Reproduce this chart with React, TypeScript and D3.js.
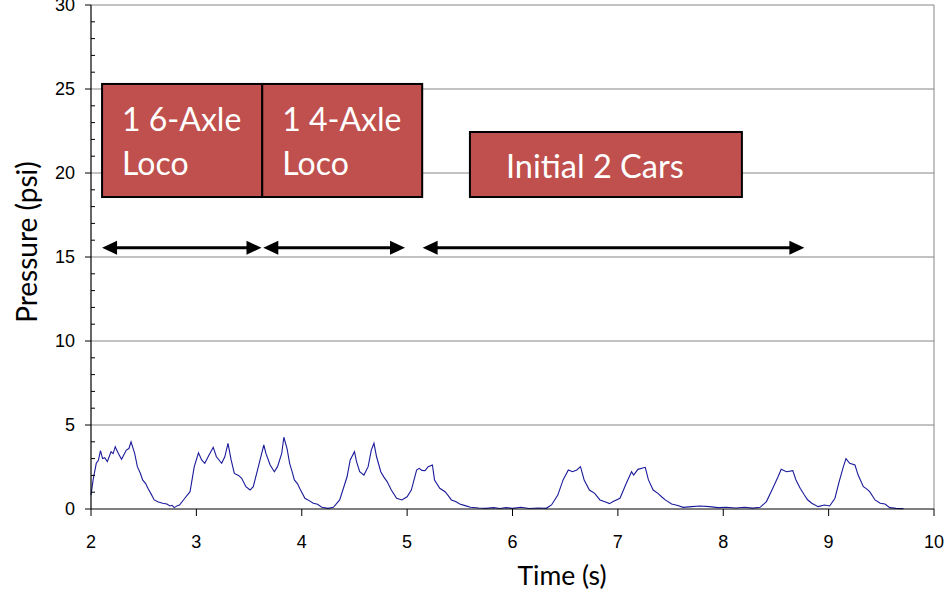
import React from "react";
import * as d3 from "d3";

const timeS: number[] = [
  2.0, 2.02, 2.05, 2.07, 2.09, 2.11, 2.13, 2.155, 2.19, 2.21, 2.23, 2.26, 2.29, 2.31, 2.335, 2.36, 2.38, 2.415, 2.44, 2.47, 2.49, 2.52, 2.54, 2.57, 2.6, 2.64, 2.68, 2.72, 2.75, 2.77, 2.79, 2.82, 2.84, 2.89, 2.94, 2.98,
  3.02, 3.05, 3.08, 3.12, 3.16, 3.19, 3.24, 3.27, 3.3, 3.33, 3.36, 3.4, 3.43, 3.47, 3.51, 3.54, 3.58, 3.62, 3.64, 3.66, 3.7, 3.74, 3.77, 3.81, 3.83, 3.86, 3.885, 3.91, 3.93, 3.96, 3.98,
  4.03, 4.07, 4.11, 4.15, 4.19, 4.25, 4.3, 4.36, 4.43, 4.46, 4.5, 4.52, 4.55, 4.59, 4.63, 4.66, 4.685, 4.71, 4.75, 4.78, 4.81, 4.85, 4.9, 4.95, 5.0,
  5.04, 5.09, 5.115, 5.14, 5.17, 5.2, 5.24, 5.26, 5.31, 5.36, 5.39, 5.42, 5.46, 5.5, 5.55, 5.6, 5.68, 5.75, 5.82, 5.88, 5.94, 6.0, 6.08, 6.16, 6.24, 6.32,
  6.37, 6.43, 6.48, 6.53, 6.57, 6.61, 6.645, 6.68, 6.73, 6.78, 6.83, 6.89, 6.92, 6.955, 7.02, 7.08, 7.13, 7.15, 7.19, 7.26, 7.29, 7.335, 7.38, 7.42, 7.45, 7.51,
  7.56, 7.62, 7.7, 7.78, 7.87, 7.95, 8.03, 8.12, 8.2, 8.28, 8.35, 8.41, 8.47, 8.52, 8.55, 8.6, 8.66, 8.69, 8.73, 8.77, 8.8, 8.84, 8.9, 8.96, 9.01,
  9.06, 9.1, 9.14, 9.165, 9.2, 9.25, 9.28, 9.33, 9.36, 9.39, 9.44, 9.49, 9.535, 9.58, 9.64, 9.71,
];
const pressurePsi: number[] = [
  0.83, 1.73, 2.72, 2.9, 3.47, 3.0, 3.05, 2.82, 3.41, 3.3, 3.71, 3.3, 2.96, 3.2, 3.51, 3.6, 4.0, 3.3, 2.52, 2.1, 1.73, 1.5, 1.23, 0.9, 0.54, 0.42, 0.34, 0.3, 0.18, 0.22, 0.08, 0.2, 0.24, 0.64, 1.03, 2.52,
  3.35, 2.92, 2.72, 3.21, 3.67, 3.11, 2.72, 3.11, 3.91, 2.92, 2.12, 2.0, 1.83, 1.33, 1.13, 1.33, 2.32, 3.31, 3.81, 3.31, 2.62, 2.22, 2.52, 3.31, 4.27, 3.61, 2.72, 2.2, 1.73, 1.5, 1.23,
  0.64, 0.5, 0.34, 0.28, 0.1, 0.04, 0.1, 0.54, 1.92, 2.92, 3.41, 2.82, 2.22, 2.02, 2.52, 3.51, 3.91, 3.11, 2.22, 1.9, 1.63, 1.13, 0.64, 0.54, 0.73,
  1.13, 2.32, 2.42, 2.3, 2.28, 2.52, 2.62, 1.73, 1.23, 1.03, 0.8, 0.54, 0.45, 0.3, 0.2, 0.1, 0.06, 0.04, 0.08, 0.03, 0.08, 0.04, 0.1, 0.03, 0.06, 0.04,
  0.24, 0.83, 1.73, 2.32, 2.22, 2.32, 2.52, 1.73, 1.13, 0.93, 0.54, 0.4, 0.32, 0.44, 0.64, 1.53, 2.22, 2.02, 2.36, 2.48, 1.73, 1.13, 0.93, 0.7, 0.54, 0.3,
  0.22, 0.1, 0.14, 0.18, 0.14, 0.08, 0.1, 0.06, 0.1, 0.05, 0.1, 0.44, 1.23, 1.92, 2.36, 2.22, 2.28, 1.73, 1.23, 0.83, 0.55, 0.34, 0.14, 0.24, 0.18,
  0.64, 1.63, 2.52, 3.0, 2.72, 2.62, 2.02, 1.33, 1.2, 1.03, 0.54, 0.34, 0.3, 0.08, 0.04, 0.02,
];

const xTicks: number[] = [2, 3, 4, 5, 6, 7, 8, 9, 10];
const yTicks: number[] = [0, 5, 10, 15, 20, 25, 30];
const yMinorTicks: number[] = d3.range(0, 31).filter((v) => v % 5 !== 0);

// annotation boxes in data units
const boxLabels: string[][] = [["1 6-Axle", "Loco"], ["1 4-Axle", "Loco"], ["Initial 2 Cars"]];
const boxT0: number[] = [2.105, 3.625, 5.596];
const boxT1: number[] = [3.625, 5.143, 8.177];
const boxPTop: number[] = [25.3, 25.3, 22.44];
const boxPBottom: number[] = [18.57, 18.57, 18.57];

// arrows in data units
const arrowT0: number[] = [2.105, 3.635, 5.147];
const arrowT1: number[] = [3.618, 4.98, 8.77];
const arrowP = 15.55;

export default function App() {
  const W = 951;
  const H = 592;
  const x = d3.scaleLinear().domain([2, 10]).range([91, 934]);
  const y = d3.scaleLinear().domain([0, 30]).range([509, 5]);
  const line = d3
    .line<number>()
    .x((_, i) => x(timeS[i]))
    .y((d) => y(d));
  const pathD = line(pressurePsi) || "";
  const tickFont = "'Liberation Sans', Arial, sans-serif";
  const titleFont = "Lato, 'Open Sans', sans-serif";

  return (
    <svg width={W} height={H} style={{ position: "absolute", left: 0, top: 0, background: "#fff" }}>
      {yTicks.filter((v) => v > 0).map((v) => (
        <line key={"g" + v} x1={x(2)} x2={x(10)} y1={y(v)} y2={y(v)} stroke="#858585" strokeWidth={1} />
      ))}
      <line x1={x(10)} x2={x(10)} y1={y(30)} y2={y(0)} stroke="#858585" strokeWidth={1} />

      <path d={pathD} fill="none" stroke="#1a1a9a" strokeWidth={1.1} />

      <line x1={x(2)} x2={x(2)} y1={y(30)} y2={y(0)} stroke="#000" strokeWidth={1.2} />
      <line x1={x(2)} x2={x(10)} y1={y(0)} y2={y(0)} stroke="#000" strokeWidth={1.2} />
      {yTicks.map((v) => (
        <g key={"yt" + v}>
          <line x1={x(2) - 6} x2={x(2)} y1={y(v)} y2={y(v)} stroke="#000" strokeWidth={1} />
          <text x={x(2) - 16} y={y(v)} dy="0.36em" textAnchor="end" fontFamily={tickFont} fontSize={18} fill="#000">
            {v}
          </text>
        </g>
      ))}
      {yMinorTicks.map((v) => (
        <line key={"ym" + v} x1={x(2)} x2={x(2) + 4} y1={y(v)} y2={y(v)} stroke="#000" strokeWidth={1} />
      ))}
      {xTicks.map((v) => (
        <g key={"xt" + v}>
          <line x1={x(v)} x2={x(v)} y1={y(0)} y2={y(0) + 7} stroke="#000" strokeWidth={1} />
          <text x={x(v)} y={y(0) + 39} textAnchor="middle" fontFamily={tickFont} fontSize={18} fill="#000">
            {v}
          </text>
        </g>
      ))}

      <text x={562} y={585} textAnchor="middle" fontFamily={titleFont} fontSize={26.5} fill="#000">
        Time (s)
      </text>
      <text
        transform={`translate(37,242) rotate(-90)`}
        textAnchor="middle"
        fontFamily={titleFont}
        fontSize={28}
        fill="#000"
      >
        Pressure (psi)
      </text>

      {boxLabels.map((lines, i) => {
        const bx = x(boxT0[i]);
        const bw = x(boxT1[i]) - bx;
        const by = y(boxPTop[i]);
        const bh = y(boxPBottom[i]) - by;
        return (
          <g key={"b" + i}>
            <rect x={bx} y={by} width={bw} height={bh} fill="#C0504D" stroke="#000" strokeWidth={2} />
            {lines.length === 2 ? (
              <>
                <text x={bx + 20} y={by + 47} fontFamily={titleFont} fontSize={32} fill="#fff">
                  {lines[0]}
                </text>
                <text x={bx + 20} y={by + 91} fontFamily={titleFont} fontSize={32} fill="#fff">
                  {lines[1]}
                </text>
              </>
            ) : (
              <text x={bx + 36} y={by + 46} fontFamily={titleFont} fontSize={32.5} fill="#fff">
                {lines[0]}
              </text>
            )}
          </g>
        );
      })}

      {arrowT0.map((t0, i) => {
        const x0 = x(t0);
        const x1 = x(arrowT1[i]);
        const ay = y(arrowP);
        const hl = 15;
        const hh = 7;
        return (
          <g key={"a" + i}>
            <line x1={x0 + hl - 1} x2={x1 - hl + 1} y1={ay} y2={ay} stroke="#000" strokeWidth={3} />
            <polygon points={`${x0},${ay} ${x0 + hl},${ay - hh} ${x0 + hl},${ay + hh}`} fill="#000" />
            <polygon points={`${x1},${ay} ${x1 - hl},${ay - hh} ${x1 - hl},${ay + hh}`} fill="#000" />
          </g>
        );
      })}
    </svg>
  );
}
